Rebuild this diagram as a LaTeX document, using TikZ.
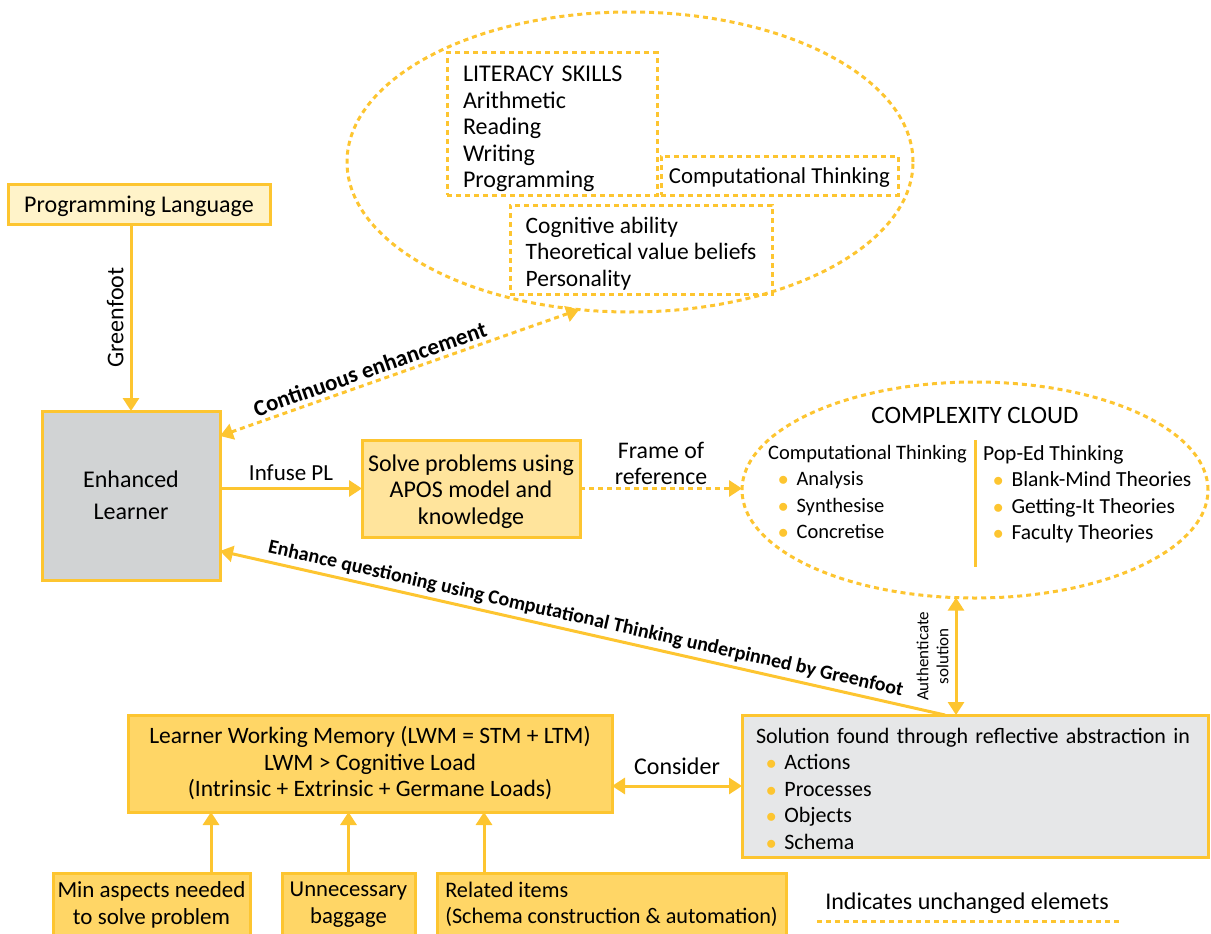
\documentclass[tikz,border=0pt]{standalone}
\usepackage{fontspec}
\setmainfont{Carlito}
\usetikzlibrary{shapes.geometric,arrows.meta}
\definecolor{yel}{HTML}{FDC530}
\definecolor{lwmfill}{HTML}{FFD666}
\definecolor{solvefill}{HTML}{FFE49C}
\definecolor{plfill}{HTML}{FFF3C9}
\definecolor{elgrey}{HTML}{D1D3D4}
\definecolor{solgrey}{HTML}{E6E7E8}
\newcommand{\ybul}{\hspace*{10pt}\textcolor{yel}{$\bullet$}\hspace{8pt}}
\begin{document}
\begin{tikzpicture}[x=1pt,y=-1pt,
  font=\fontsize{23.5}{26.5}\selectfont,
  fsz/.style={font=\fontsize{#1}{26.5}\selectfont},
  box/.style={draw=yel, line width=3pt, rectangle, inner sep=0pt, outer sep=0pt},
  dotline/.style={draw=yel, line width=3pt, dash pattern=on 5pt off 4pt},
  dotbox/.style={dotline, rectangle, inner sep=0pt, outer sep=0pt},
  dotell/.style={dotline, ellipse, inner sep=0pt, outer sep=0pt},
  tip/.tip={Triangle[width=16pt,length=13pt]},
  arr/.style={draw=yel, line width=3pt, -tip},
  arrback/.style={draw=yel, line width=3pt, tip-},
  dblarr/.style={draw=yel, line width=3pt, tip-tip},
  dotarr/.style={dotline, -tip},
  dotdbl/.style={dotline, tip-tip},
  lbl/.style={inner sep=6pt, text=black},
  boldlbl/.style={inner sep=4pt, text=black},
]
\useasboundingbox (0,0) rectangle (1211,934);

% top ellipse
\node[dotell, minimum width=566pt, minimum height=300pt] (top) at (630,162) {};
\node[dotbox, fsz=24, minimum width=210pt, minimum height=142pt, text width=178pt, align=left] (lit) at (552,124)
  {\rule{0pt}{25.5pt}LITERACY SKILLS\\Arithmetic\\Reading\\Writing\\Programming};
\node[dotbox, fsz=22.8, minimum width=237pt, minimum height=39pt, text depth=0pt] (ctbox) at (779.5,175.5) {Computational Thinking};
\node[dotbox, minimum width=262pt, minimum height=89pt, align=left] (cog) at (641,249.5)
  {\rule{0pt}{24pt}Cognitive ability\\Theoretical value beliefs\\Personality};

% left column
\node[box, fsz=24, fill=plfill, minimum width=262pt, minimum height=40pt, text depth=0pt] (pl) at (139,204) {Programming Language};
\node[box, fill=elgrey, minimum width=178pt, minimum height=169pt, align=center, font=\fontsize{24}{32}\selectfont] (el) at (131,495.5) {Enhanced\\Learner};
\node[box, fsz=24, fill=solvefill, minimum width=218pt, minimum height=97pt, align=center] (solve) at (471,488.5)
  {\rule{0pt}{22.5pt}Solve problems using\\APOS model and\\knowledge};

% complexity cloud
\node[dotell, minimum width=466pt, minimum height=216pt] (cc) at (975,490) {};
\node[inner sep=0pt, fsz=25] (cctitle) at (975,415) {COMPLEXITY CLOUD};
\node[anchor=north west, align=left, inner sep=0pt, fsz=20.5] (ctcol) at (768,445)
  {Computational Thinking\\\ybul Analysis\\\ybul Synthesise\\\ybul Concretise};
\node[anchor=north west, align=left, inner sep=0pt, fsz=21.5] (pecol) at (983,445)
  {Pop-Ed Thinking\\\ybul Blank-Mind Theories\\\ybul Getting-It Theories\\\ybul Faculty Theories};
\coordinate (div1) at (975,440);
\coordinate (div2) at (975,567);
\draw[draw=yel, line width=3pt] (div1) -- (div2);

% solution & LWM
\node[box, fsz=22, fill=solgrey, minimum width=466pt, minimum height=142pt, text width=438pt, align=left] (sol) at (975,786)
  {\rule{0pt}{21pt}Solution found through reflective abstraction in\\\ybul Actions\\\ybul Processes\\\ybul Objects\\\ybul Schema};
\node[box, fill=lwmfill, minimum width=484pt, minimum height=97pt, align=center] (lwm) at (370,763.5)
  {Learner Working Memory (LWM = STM + LTM)\\LWM > Cognitive Load\\(Intrinsic + Extrinsic + Germane Loads)};

% bottom boxes (cut by the page edge)
\node[box, fsz=23, fill=lwmfill, anchor=north, minimum width=197pt, minimum height=94pt, align=center] (mina) at (151.5,873)
  {Min aspects needed\\to solve problem\\\strut};
\node[box, fsz=22.7, fill=lwmfill, anchor=north, minimum width=133pt, minimum height=94pt, align=center] (unb) at (348.5,873)
  {Unnecessary\\baggage\\\strut};
\node[box, fsz=22.2, fill=lwmfill, anchor=north, minimum width=349pt, minimum height=94pt, align=left] (rel) at (611.5,873)
  {Related items\\(Schema construction \& automation)\\\strut};

% legend
\node[inner sep=0pt, fsz=24] (legend) at (967,903) {Indicates unchanged elemets};
\coordinate (lg1) at (817,921);
\coordinate (lg2) at (1120,921);
\draw[dotline] (lg1) -- (lg2);

% connectors
\draw[arr] (el.north |- pl.south) -- node[lbl, fsz=24, pos=0.5, rotate=90, anchor=south] (gf) {Greenfoot} (el.north);
\draw[arr] (el.east |- solve.west) -- node[lbl, fsz=23, above] (inf) {Infuse PL} (solve.west);
\draw[dotarr] (solve.east) -- node[lbl, fsz=23.8, above, align=center, inner sep=2pt] (fr) {Frame of\\reference} (solve.east -| cc.west);
\draw[dotdbl] ([yshift=59.5pt]el.east) -- node[boldlbl, pos=0.43, sloped, above, font=\fontsize{23}{26}\selectfont\bfseries] (ce) {Continuous enhancement} (top.251);
\draw[arrback] ([yshift=-55.5pt]el.east) -- node[boldlbl, midway, sloped, above, font=\fontsize{20}{24}\selectfont\bfseries] (eq)
  {Enhance questioning using Computational Thinking underpinned by Greenfoot} ([xshift=-30pt]sol.north);
\draw[dblarr] (cc.260 |- sol.north) -- node[lbl, rotate=90, anchor=south, align=center, font=\fontsize{17}{20}\selectfont] (auth)
  {Authenticate\\solution} (cc.260);
\draw[dblarr] (lwm.east |- sol.west) -- node[lbl, fsz=24, above, inner sep=10pt] (cons) {Consider} (sol.west);
\draw[arr] ([xshift=59.5pt]mina.north) -- ([xshift=59.5pt]mina.north |- lwm.south);
\draw[arr] (unb.north) -- (unb.north |- lwm.south);
\draw[arr] ([xshift=-127.5pt]rel.north) -- ([xshift=-127.5pt]rel.north |- lwm.south);
\end{tikzpicture}
\end{document}
